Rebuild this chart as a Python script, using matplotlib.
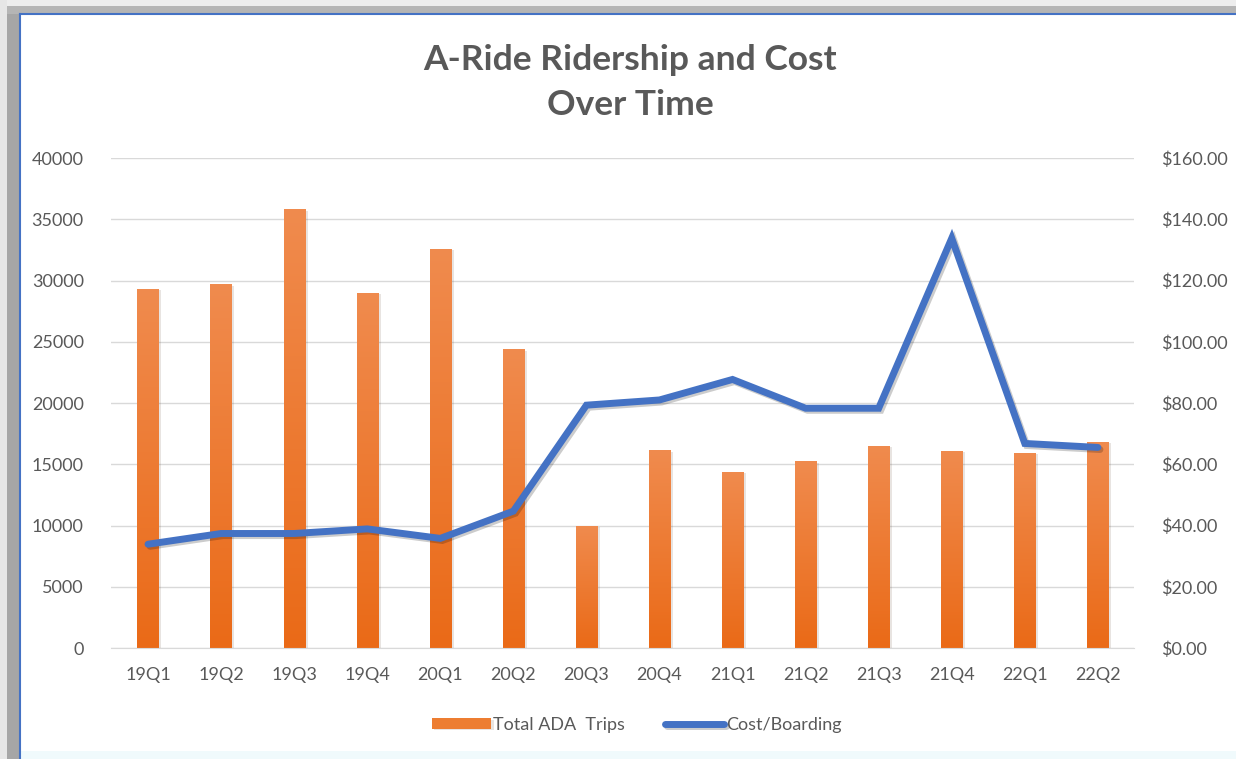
import matplotlib.pyplot as plt
import matplotlib.patheffects as pe
from matplotlib.patches import Rectangle
from matplotlib.colors import LinearSegmentedColormap
import numpy as np

quarters = ['19Q1', '19Q2', '19Q3', '19Q4', '20Q1', '20Q2', '20Q3',
            '20Q4', '21Q1', '21Q2', '21Q3', '21Q4', '22Q1', '22Q2']
ada_trips = [29300, 29700, 35800, 29000, 32600, 24400, 10000,
             16150, 14400, 15250, 16500, 16100, 15950, 16850]
cost_per_boarding = [33.9, 37.4, 37.4, 38.9, 35.8, 44.7, 79.3,
                     81.0, 87.7, 78.3, 78.3, 133.8, 66.8, 65.5]

plt.rcParams['font.family'] = ['Lato', 'DejaVu Sans']
txt = '#595959'
grid_c = '#D9D9D9'
orange = '#ED7D31'
blue = '#4472C4'

fig = plt.figure(figsize=(12.36, 7.59), dpi=100)

# screenshot frame: gray strip on left / top, thin blue border
fig.patches.append(Rectangle((0, 0), 20 / 1236, 1, transform=fig.transFigure,
                             facecolor='#A6A6A6', edgecolor='none', zorder=-5))
fig.patches.append(Rectangle((0, 1 - 14 / 759), 1, 14 / 759, transform=fig.transFigure,
                             facecolor='#B5B5B5', edgecolor='none', zorder=-5))
fig.patches.append(Rectangle((0, 1 - 6 / 759), 1, 6 / 759, transform=fig.transFigure,
                             facecolor='#EDEDED', edgecolor='none', zorder=-4))
fig.patches.append(Rectangle((0, 0), 7 / 1236, 1, transform=fig.transFigure,
                             facecolor='#E6E6E6', edgecolor='none', zorder=-4))
fig.add_artist(plt.Line2D([20 / 1236, 20 / 1236], [0, 1 - 14 / 759], transform=fig.transFigure,
                          color=blue, lw=1.5))
fig.add_artist(plt.Line2D([20 / 1236, 1], [1 - 14 / 759, 1 - 14 / 759], transform=fig.transFigure,
                          color=blue, lw=1.5))
fig.patches.append(Rectangle((20 / 1236, 0), 1, 8 / 759, transform=fig.transFigure,
                             facecolor='#F0FAFC', edgecolor='none', zorder=-4))

ax = fig.add_axes([0.0902, 0.1462, 0.8276, 0.6456])
ax2 = ax.twinx()

x = np.arange(len(quarters))
bars = ax.bar(x, ada_trips, width=0.29, color=orange, zorder=2, label='Total ADA  Trips')

# vertical gradient on each bar
cmap = LinearSegmentedColormap.from_list('og', ['#EA6A17', '#F08B4E'])
grad = np.linspace(0, 1, 256).reshape(-1, 1)
for b in bars:
    b.set_path_effects([pe.SimplePatchShadow(offset=(2, -1), alpha=0.12), pe.Normal()])
    im = ax.imshow(grad, extent=(b.get_x(), b.get_x() + b.get_width(), 0, b.get_height()),
                   origin='lower', aspect='auto', cmap=cmap, zorder=2.5)
    im.set_clip_path(b)

ax2.plot(x, cost_per_boarding, color=blue, lw=5, solid_joinstyle='miter',
         solid_capstyle='round', label='Cost/Boarding',
         path_effects=[pe.SimpleLineShadow(offset=(1.5, -1.5), alpha=0.2), pe.Normal()])

ax.set_xlim(-0.5, len(quarters) - 0.5)
ax.set_ylim(0, 40000)
ax.set_yticks(np.arange(0, 40001, 5000))
ax2.set_ylim(0, 160)
ax2.set_yticks(np.arange(0, 161, 20))
ax2.yaxis.set_major_formatter(lambda v, p: f'${v:,.2f}')

ax.set_xticks(x)
ax.set_xticklabels(quarters)
ax.grid(axis='y', color=grid_c, lw=1, zorder=0)
ax.set_axisbelow(True)

for a in (ax, ax2):
    for s in a.spines.values():
        s.set_visible(False)
    a.tick_params(length=0, labelsize=13, labelcolor=txt)
ax.spines['bottom'].set_visible(True)
ax.spines['bottom'].set_color(grid_c)
ax.tick_params(axis='y', pad=20)
ax2.tick_params(axis='y', pad=19)
ax.tick_params(axis='x', pad=14)

fig.text(0.51, 0.891, 'A-Ride Ridership and Cost\nOver Time', ha='center', va='center',
         fontsize=25.5, fontweight='bold', color=txt, linespacing=1.48)

h1, l1 = ax.get_legend_handles_labels()
h2, l2 = ax2.get_legend_handles_labels()
fig.legend(h1 + h2, l1 + l2, loc='center', bbox_to_anchor=(0.515, 0.045), ncol=2,
           frameon=False, fontsize=13, labelcolor=txt, handlelength=3.3,
           handletextpad=0.1, columnspacing=2.2, handleheight=0.5)

fig.savefig('out.png', dpi=100)
